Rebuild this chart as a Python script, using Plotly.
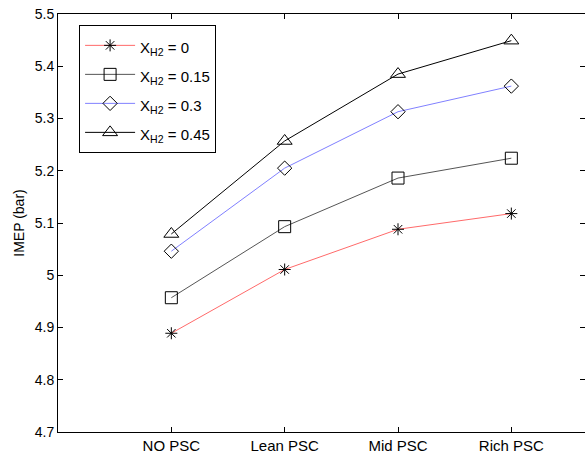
import plotly.graph_objects as go

categories = ["NO PSC", "Lean PSC", "Mid PSC", "Rich PSC"]
xh2_0 = [4.889, 5.011, 5.088, 5.118]
xh2_015 = [4.957, 5.093, 5.186, 5.224]
xh2_03 = [5.046, 5.205, 5.313, 5.362]
xh2_045 = [5.079, 5.257, 5.385, 5.449]
names = ["X<sub>H2</sub> = 0", "X<sub>H2</sub> = 0.15", "X<sub>H2</sub> = 0.3", "X<sub>H2</sub> = 0.45"]
ytick_vals = [4.7, 4.8, 4.9, 5.0, 5.1, 5.2, 5.3, 5.4, 5.5]
ytick_text = ["4.7", "4.8", "4.9", "5", "5.1", "5.2", "5.3", "5.4", "5.5"]

series = [xh2_0, xh2_015, xh2_03, xh2_045]
line_colors = ["#ff6a6a", "#555555", "#8080ff", "#000000"]
symbols = ["asterisk-open", "square-open", "diamond-open", "triangle-up-open"]
sizes = [10, 12, 11, 13]

fig = go.Figure()
for vals, name, lc, sym, sz in zip(series, names, line_colors, symbols, sizes):
    fig.add_trace(go.Scatter(
        x=categories, y=vals,
        name='<span style="font-size:15px">' + name + '</span>',
        mode="lines+markers",
        line=dict(color=lc, width=1),
        marker=dict(symbol=sym, size=sz, color="black", line=dict(color="black", width=1)),
    ))

fam = "Liberation Sans, Arial, sans-serif"
yfont = dict(family=fam, size=14, color="black")
xfont = dict(family=fam, size=15, color="black")
fig.update_layout(
    width=585, height=457,
    margin=dict(l=58, r=0, t=14, b=25),
    paper_bgcolor="white", plot_bgcolor="white",
    font=yfont,
    showlegend=True,
    legend=dict(x=0.04, y=0.974, xanchor="left", yanchor="top",
                bgcolor="white", bordercolor="black", borderwidth=1,
                font=dict(family=fam, size=20, color="black"),
                itemwidth=50, tracegroupgap=0),
)
fig.update_xaxes(type="category", range=[-1, 3.65], showgrid=False, zeroline=False,
                 showline=True, linecolor="black", linewidth=1, mirror="ticks",
                 ticks="inside", ticklen=5, tickcolor="black", tickfont=xfont)
fig.update_yaxes(range=[4.7, 5.5], tickvals=ytick_vals, ticktext=ytick_text,
                 showgrid=False, zeroline=False,
                 showline=True, linecolor="black", linewidth=1, mirror="ticks",
                 ticks="inside", ticklen=5, tickcolor="black", tickfont=yfont,
                 title=dict(text="IMEP (bar)", font=yfont, standoff=6))
fig.write_html("out.html", config={"displayModeBar": False},
               post_script="document.body.style.margin='0';")
